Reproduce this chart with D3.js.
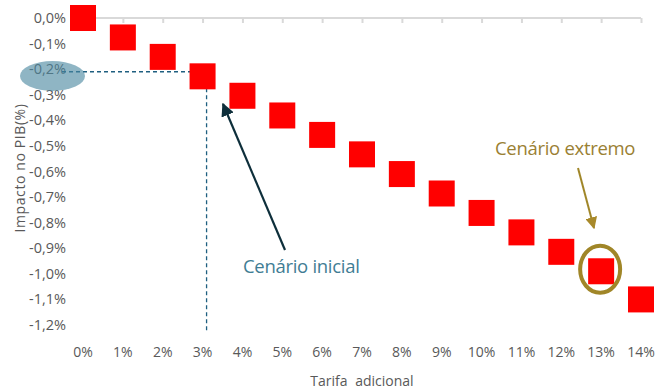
<!DOCTYPE html>
<html>
<head>
<meta charset="utf-8">
<script src="https://cdn.jsdelivr.net/npm/d3@7"></script>
<style>
  html, body { margin: 0; padding: 0; background: #ffffff; }
  svg { display: block; font-family: "Open Sans", "Noto Sans", sans-serif; }
</style>
</head>
<body>
<svg id="chart" width="670" height="389"></svg>
<script>
// Additional tariff scenarios (x) and estimated GDP impact in percentage points (y)
const tariffs = ["0%", "1%", "2%", "3%", "4%", "5%", "6%", "7%", "8%", "9%", "10%", "11%", "12%", "13%", "14%"];
const gdpImpact = [0, -0.076, -0.152, -0.228, -0.304, -0.381, -0.457, -0.533, -0.61, -0.686, -0.762, -0.838, -0.914, -0.99, -1.10];
const yTicks = [0, -0.1, -0.2, -0.3, -0.4, -0.5, -0.6, -0.7, -0.8, -0.9, -1.0, -1.1, -1.2];

const baseScenario = { tariff: "3%", value: -0.21 };
const extremeScenario = { tariff: "13%", value: -0.99 };

const svg = d3.select("#chart");

const x = d3.scalePoint().domain(tariffs).range([83, 641]);
const y = d3.scaleLinear().domain([-1.2, 0]).range([325, 18]);

const ptLocale = d3.formatLocale({ decimal: ",", thousands: ".", grouping: [3], currency: ["R$", ""], minus: "-" });
const fmtNum = ptLocale.format(".1f");
const fmtY = d => fmtNum(d) + "%";

const gray = "#595959";

// Zero line with tick marks (category axis crossing at 0)
const xAxis = d3.axisBottom(x).tickSize(5).tickFormat("");
const gAxis = svg.append("g").attr("transform", `translate(0,${y(0)})`).call(xAxis);
gAxis.select(".domain").attr("stroke", "#d9d9d9").attr("stroke-width", 2)
  .attr("d", `M${x(tariffs[0])},0H${x(tariffs[tariffs.length - 1])}`);
gAxis.selectAll(".tick line").attr("stroke", "#d9d9d9").attr("stroke-width", 2);

// Y tick labels
svg.append("g").selectAll("text").data(yTicks).join("text")
  .attr("x", 66).attr("y", d => y(d)).attr("dy", "0.35em")
  .attr("text-anchor", "end").attr("font-size", 14.5).attr("fill", gray)
  .text(fmtY);

// X tick labels
svg.append("g").selectAll("text").data(tariffs).join("text")
  .attr("x", d => x(d)).attr("y", 352).attr("dy", "0.35em")
  .attr("text-anchor", "middle").attr("font-size", 14).attr("fill", gray)
  .text(d => d);

// Axis titles
svg.append("text").attr("x", 362).attr("y", 386)
  .attr("text-anchor", "middle").attr("font-size", 14).attr("fill", gray)
  .attr("word-spacing", 4)
  .text("Tarifa adicional");
svg.append("text").attr("transform", "translate(20,168) rotate(-90)").attr("dy", "0.35em")
  .attr("text-anchor", "middle").attr("font-size", 14).attr("fill", gray)
  .attr("letter-spacing", 0.6)
  .text("Impacto no PIB(%)");

// Reference guide for the initial scenario
const teal = "#1f5f80";
const bx = x(baseScenario.tariff) + 4, by = y(baseScenario.value);
svg.append("path")
  .attr("d", `M62,${by}H${bx}V331`)
  .attr("fill", "none").attr("stroke", teal).attr("stroke-width", 1.3)
  .attr("stroke-dasharray", "4,3");

// Square markers
const size = 26;
svg.append("g").selectAll("rect").data(tariffs).join("rect")
  .attr("x", d => x(d) - size / 2)
  .attr("y", (d, i) => y(gdpImpact[i]) - size / 2)
  .attr("width", size).attr("height", size)
  .attr("fill", "#ff0000");

// Highlight around the -0,2% label
svg.append("ellipse").attr("cx", 52.5).attr("cy", 76).attr("rx", 32.5).attr("ry", 15)
  .attr("fill", "#4a87a0").attr("fill-opacity", 0.62);

// Arrow markers
const defs = svg.append("defs");
function arrowHead(id, color) {
  defs.append("marker").attr("id", id).attr("viewBox", "0 0 10 10")
    .attr("refX", 9).attr("refY", 5).attr("markerWidth", 6).attr("markerHeight", 6)
    .attr("markerUnits", "strokeWidth").attr("orient", "auto")
    .append("path").attr("d", "M0,0L10,5L0,10Z").attr("fill", color);
}
arrowHead("headDark", "#0e2f3b");
arrowHead("headGold", "#a8892a");

// Initial scenario annotation
svg.append("line").attr("x1", 285).attr("y1", 250).attr("x2", 223).attr("y2", 104)
  .attr("stroke", "#0e2f3b").attr("stroke-width", 2.2).attr("marker-end", "url(#headDark)");
svg.append("text").attr("x", 243).attr("y", 273)
  .attr("font-size", 18.5).attr("fill", "#3f7d94").attr("letter-spacing", -0.3)
  .text("Cenário inicial");

// Extreme scenario annotation
const gold = "#a08628";
svg.append("line").attr("x1", 578).attr("y1", 168).attr("x2", 594).attr("y2", 228)
  .attr("stroke", gold).attr("stroke-width", 2).attr("marker-end", "url(#headGold)");
svg.append("text").attr("x", 495).attr("y", 155)
  .attr("font-size", 18.5).attr("fill", "#9a8033").attr("letter-spacing", -0.3)
  .text("Cenário extremo");
svg.append("ellipse")
  .attr("cx", x(extremeScenario.tariff) - 1).attr("cy", y(extremeScenario.value) - 2)
  .attr("rx", 20).attr("ry", 23.5)
  .attr("fill", "none").attr("stroke", gold).attr("stroke-width", 4);
</script>
</body>
</html>
